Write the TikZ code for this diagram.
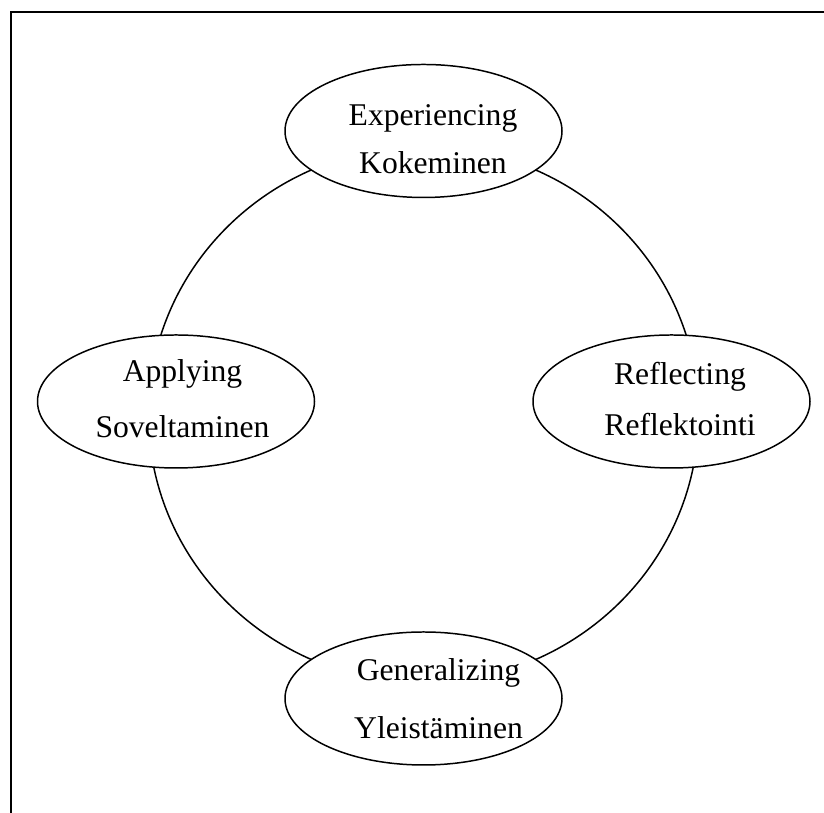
\documentclass[tikz,border=0pt]{standalone}
\usepackage{fontspec}
\setmainfont{Liberation Serif}
\usetikzlibrary{positioning,shapes.geometric,calc,backgrounds}
\tikzset{
  phase/.style={draw=black, ellipse, fill=white, line width=0.85pt, minimum width=55.4mm, minimum height=26.6mm, inner sep=0pt},
  phasetext/.style={align=center, inner sep=0pt, font=\fontsize{18}{27}\selectfont},
  cycleline/.style={draw=black, line width=0.85pt},
  frameline/.style={draw=black, line width=1.15pt}
}
\begin{document}
\begin{tikzpicture}
  \useasboundingbox (0,0) rectangle (16.48,16.26);
  \draw[frameline] (0.22,-0.1) -- (0.22,16.01) -- (16.6,16.01);

  % the four phases
  \node[phase] (exp) at (8.47,13.64) {};
  \node[phase] (refl) at (13.43,8.23) {};
  \node[phase] (gen) at (8.47,2.29) {};
  \node[phase] (appl) at (3.52,8.23) {};

  \node[phasetext] (expT) at ([xshift=1.9mm,yshift=-1.6mm]exp.center) {Experiencing\\Kokeminen};
  \node[phasetext] (reflT) at ([xshift=1.7mm,yshift=0.5mm]refl.center) {Reflecting\\[1.5pt]Reflektointi};
  \node[phasetext] (genT) at ([xshift=3mm]gen.center) {Generalizing\\[6pt]Yleistäminen};
  \node[phasetext] (applT) at ([xshift=1.3mm,yshift=0.6mm]appl.center) {Applying\\[5pt]Soveltaminen};

  % cycle behind the phases
  \begin{scope}[on background layer]
    \draw[cycleline] ($(exp)!0.5!(gen)$) ellipse[x radius=5.5, y radius=5.36];
  \end{scope}
\end{tikzpicture}
\end{document}
